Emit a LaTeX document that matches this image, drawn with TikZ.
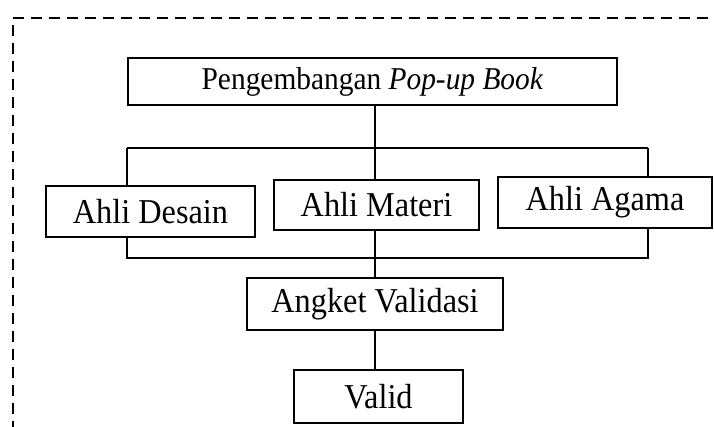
\documentclass[tikz,border=0pt]{standalone}
\usepackage{fontspec}
\usepackage{graphicx}
\setmainfont{Liberation Serif}
\usetikzlibrary{calc}
\newcommand{\tallt}[1]{\scalebox{1}[1.08]{#1}}
\begin{document}
\begin{tikzpicture}[x=1pt,y=-1pt,
  box/.style={draw,line width=2pt,rectangle,inner sep=0pt,font=\fontsize{32.3}{36}\selectfont},
  conn/.style={line width=1.6pt},
  frame/.style={line width=2.6pt,dash pattern=on 11pt off 7pt}]
\useasboundingbox (0,0) rectangle (714,427);
\draw[frame] (13,432) -- (13,18) -- (722,18);
\node[box,minimum width=489pt,minimum height=47pt,font=\fontsize{29.4}{32}\selectfont] (top) at (372.5,81.5) {\tallt{Pengembangan \textit{Pop-up Book}}};
\node[box,minimum width=209pt,minimum height=51pt] (desain) at (150.5,211.5) {\tallt{Ahli Desain}};
\node[box,minimum width=205pt,minimum height=50pt] (materi) at (376.5,205) {\tallt{Ahli Materi}};
\node[box,minimum width=214pt,minimum height=51pt] (agama) at (605,202.5) {\tallt{Ahli Agama}};
\node[box,minimum width=256pt,minimum height=52pt] (angket) at (375,304) {\tallt{Angket Validasi}};
\node[box,minimum width=169pt,minimum height=53pt] (valid) at (378.5,396.5) {\tallt{Valid}};
\coordinate (tl) at (127,148);
\coordinate (tm) at (375,148);
\coordinate (tr) at (648,148);
\coordinate (bl) at (127,258);
\coordinate (bm) at (375,258);
\coordinate (br) at (648,258);
\draw[conn] (tm |- top.south) -- (tm);
\draw[conn] (tl) -- (tr);
\draw[conn] (tl) -- (tl |- desain.north);
\draw[conn] (tm) -- (tm |- materi.north);
\draw[conn] (tr) -- (tr |- agama.north);
\draw[conn] (bl |- desain.south) -- (bl) -- (br) -- (br |- agama.south);
\draw[conn] (bm |- materi.south) -- (bm |- angket.north);
\draw[conn] (bm |- angket.south) -- (bm |- valid.north);
\end{tikzpicture}
\end{document}
